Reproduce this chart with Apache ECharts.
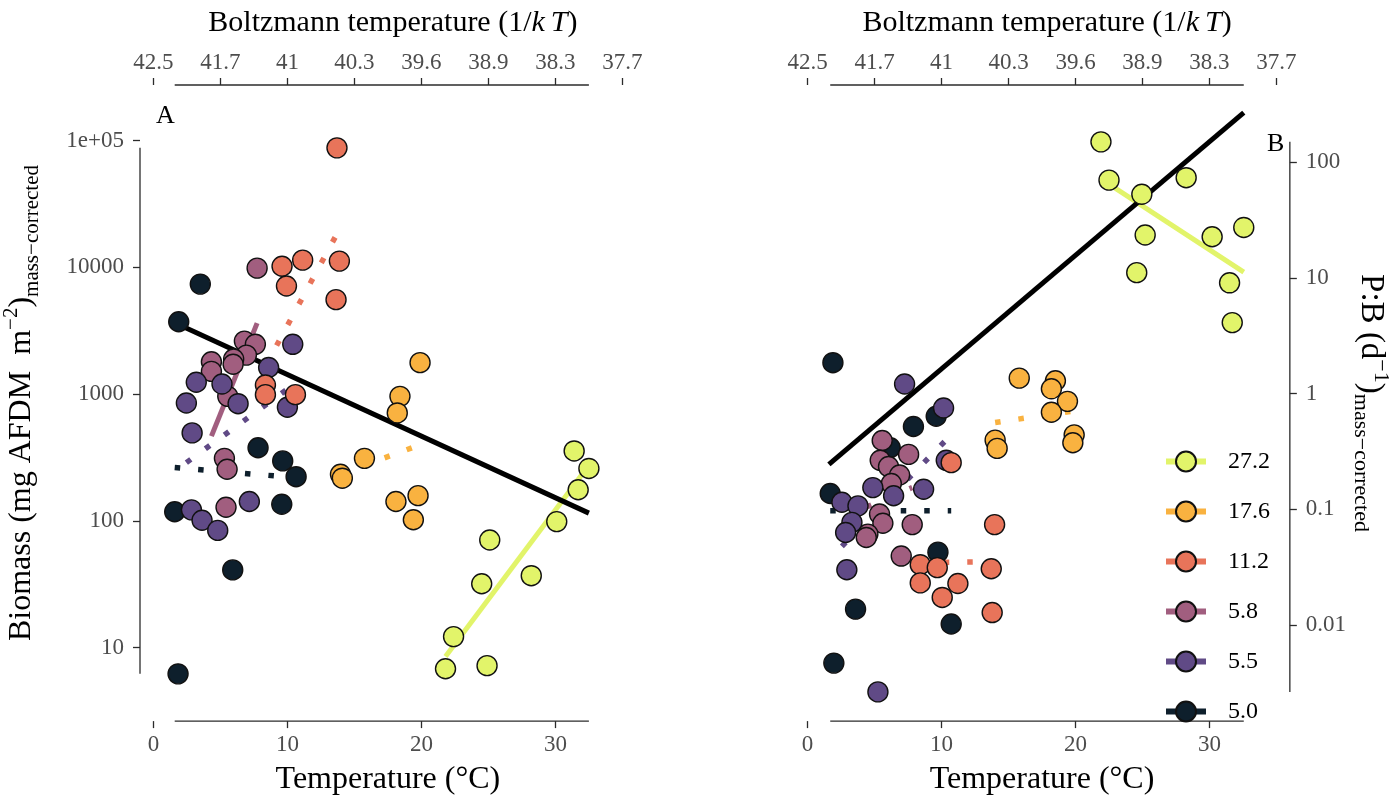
<!DOCTYPE html>
<html><head><meta charset="utf-8">
<script src="https://cdn.jsdelivr.net/npm/echarts@6/dist/echarts.min.js"></script>
<style>html,body{margin:0;padding:0;background:#fff}#c{width:1393px;height:804px}</style>
</head><body><div id="c"></div>
<script>
// ---------------- DATA ----------------
const groups = ['27.2', '17.6', '11.2', '5.8', '5.5', '5.0'];

// Panel A: biomass (mg AFDM m^-2, mass-corrected) vs temperature (°C)
const biomass_272 = [[31.4,356],[32.5,259],[31.7,176],[30.1,98.6],[25.1,70.6],[28.2,36.9],[24.5,31.9],[22.4,12.2],[21.8,6.8],[24.9,7.2]];
const biomass_176 = [[19.9,1770],[18.4,960],[18.2,710],[15.75,311],[13.96,233],[14.1,217],[18.1,142],[19.75,158],[19.4,102]];
const biomass_112 = [[13.7,87700],[9.6,10200],[11.14,11400],[13.88,11200],[9.93,7130],[13.63,5560],[8.36,1180],[8.36,990],[10.6,990]];
const biomass_58  = [[7.74,9860],[6.79,2620],[7.61,2470],[6.94,2030],[5.99,1890],[5.95,1720],[4.33,1800],[4.33,1510],[5.55,960],[5.3,311],[5.5,255],[5.42,128]];
const biomass_55  = [[10.4,2470],[8.6,1620],[3.2,1240],[5.12,1200],[2.46,850],[6.32,840],[10.0,787],[2.89,494],[2.84,122],[3.63,101],[4.8,84],[7.16,142]];
const biomass_50  = [[3.5,7380],[1.89,3720],[7.81,377],[9.65,297],[10.65,223],[1.59,118],[9.58,135],[5.92,41],[1.84,6.2]];

// Panel B: P:B (d^-1, mass-corrected) vs temperature (°C)
const pb_272 = [[21.9,150],[22.5,70],[24.95,52.8],[28.26,73.5],[25.2,23.5],[30.2,22.7],[32.56,27.3],[24.57,11.1],[31.5,9.07],[31.7,4.11]];
const pb_176 = [[15.8,1.36],[18.5,1.29],[18.2,1.1],[19.4,0.857],[18.2,0.69],[19.9,0.44],[19.8,0.376],[14.0,0.396],[14.15,0.336]];
const pb_112 = [[10.72,0.253],[13.96,0.0737],[8.41,0.0332],[9.68,0.0313],[13.71,0.0306],[8.41,0.0231],[11.22,0.0228],[10.05,0.0173],[13.78,0.0128]];
const pb_58  = [[5.57,0.393],[7.54,0.298],[5.42,0.265],[6.04,0.234],[6.87,0.198],[6.25,0.167],[5.37,0.091],[5.62,0.0757],[4.5,0.061],[4.38,0.057],[7.81,0.0737],[6.99,0.0394]];
const pb_55  = [[7.24,1.21],[10.15,0.75],[10.35,0.265],[4.87,0.154],[6.42,0.131],[8.66,0.149],[2.56,0.115],[3.76,0.107],[3.31,0.077],[2.84,0.063],[2.93,0.030],[5.25,0.00264]];
const pb_50  = [[1.89,1.85],[9.6,0.637],[7.9,0.52],[6.17,0.34],[1.69,0.137],[9.73,0.0426],[3.58,0.0137],[10.72,0.0102],[1.96,0.00468]];

// Fitted lines (end points): [temperature, value]
const fitA_272 = [[21.8,8.5],[32.5,275]];
const fitA_176 = [[13.96,234],[19.9,398]];
const fitA_112 = [[8.36,1660],[13.88,19950]];
const fitA_58  = [[4.33,466],[7.74,3630]];
const fitA_55  = [[2.46,288],[10.4,1175]];
const fitA_50  = [[1.59,263],[10.65,219]];
const fitA_all = [[1.59,3660],[32.5,115]];

const fitB_272 = [[21.9,71.8],[32.56,11.2]];
const fitB_176 = [[14.0,0.562],[19.9,0.708]];
const fitB_112 = [[8.41,0.0345],[13.96,0.0352]];
const fitB_58  = [[4.38,0.1045],[7.81,0.154]];
const fitB_55  = [[2.56,0.0478],[10.35,0.398]];
const fitB_50  = [[1.69,0.0973],[10.72,0.0973]];
const fitB_all = [[1.59,0.244],[32.56,268]];

const fitKindA = ['solid','dotted','dotted','solid','dotted','dotted'];
const fitKindB = ['solid','dotted','dotted','dotted','dotted','dotted'];

const bottomTicks = [0, 10, 20, 30];
const topTicks = [0, 5, 10, 15, 20, 25, 30, 35];
const yTicksA = [10, 100, 1000, 10000, 100000];
const yTicksB = [0.01, 0.1, 1, 10, 100];

// ---------------- STYLE / LAYOUT ----------------
const colors = ['#E2F46A', '#F9B240', '#E8745A', '#A15E7F', '#604A86', '#0E1F2C'];
const FF = "'Liberation Serif','Times New Roman',serif";
const AX = '#2b2b2b';
const TICKC = '#4d4d4d';
const X_MIN = -1, X_MAX = 36;
const YA_MIN = Math.pow(10, 0.4196), YA_MAX = Math.pow(10, 5.439);
const YB_MIN = Math.pow(10, -2.831), YB_MAX = Math.pow(10, 2.6675);

const ptsA = [biomass_272, biomass_176, biomass_112, biomass_58, biomass_55, biomass_50];
const ptsB = [pb_272, pb_176, pb_112, pb_58, pb_55, pb_50];
const fitsA = [fitA_272, fitA_176, fitA_112, fitA_58, fitA_55, fitA_50];
const fitsB = [fitB_272, fitB_176, fitB_112, fitB_58, fitB_55, fitB_50];

function boltz(v) { return String(Math.round(10 / (8.617333e-5 * (v + 273.15))) / 10); }
function logLabel(v) {
  const lg = Math.round(Math.log10(v));
  if (lg >= 5) return '1e+0' + lg;
  if (lg >= 0) return String(Math.pow(10, lg));
  return Math.pow(10, lg).toFixed(-lg);
}

function xBottom(gi) {
  return {
    type: 'value', gridIndex: gi, position: 'bottom', min: X_MIN, max: X_MAX,
    axisLine: { show: false, onZero: false }, splitLine: { show: false },
    axisTick: { show: true, length: 7, lineStyle: { color: AX, width: 1.3 }, customValues: bottomTicks },
    axisLabel: { customValues: bottomTicks, color: TICKC, fontSize: 23, fontFamily: FF, margin: 12 },
    name: 'Temperature (°C)', nameLocation: 'middle', nameGap: 36,
    nameTextStyle: { fontSize: 32, fontFamily: FF, color: '#000', lineHeight: 38 }
  };
}
function xTop(gi) {
  return {
    type: 'value', gridIndex: gi, position: 'top', min: X_MIN, max: X_MAX,
    axisLine: { show: false, onZero: false }, splitLine: { show: false },
    axisTick: { show: true, length: 7, lineStyle: { color: AX, width: 1.3 }, customValues: topTicks },
    axisLabel: { customValues: topTicks, color: TICKC, fontSize: 23, fontFamily: FF, margin: 11, formatter: boltz },
    name: '{n|Boltzmann temperature (1/}{i|k\u2009T}{n|)}', nameLocation: 'middle', nameGap: 44,
    nameTextStyle: { padding: [0, 0, 0, 10], rich: {
      n: { fontSize: 30, fontFamily: FF, color: '#000', lineHeight: 36 },
      i: { fontSize: 30, fontFamily: FF, color: '#000', fontStyle: 'italic', lineHeight: 36 } } }
  };
}
function richTitle(main, small) {
  return {
    n: { fontSize: main, fontFamily: FF, color: '#000', lineHeight: 42 },
    sup: { fontSize: small, fontFamily: FF, color: '#000', lineHeight: 24, verticalAlign: 'top' },
    sub: { fontSize: small, fontFamily: FF, color: '#000', lineHeight: 12, verticalAlign: 'bottom' }
  };
}

function rangeOf(arrs, k) {
  const vals = [].concat(...arrs.map(a => a.map(p => p[k])));
  return [Math.min(...vals), Math.max(...vals)];
}

const series = [];
function frame(gi, pts, yMin, yMax, xEdge) {
  const xr = rangeOf(pts, 0), yr = rangeOf(pts, 1);
  const base = { type: 'line', xAxisIndex: gi * 2, yAxisIndex: gi, symbol: 'none', silent: true, clip: false, z: 1,
    lineStyle: { color: AX, width: 1.3 }, animation: false };
  series.push(Object.assign({}, base, { data: [[xr[0], yMin], [xr[1], yMin]] }));
  series.push(Object.assign({}, base, { data: [[xr[0], yMax], [xr[1], yMax]] }));
  series.push(Object.assign({}, base, { data: [[xEdge, yr[0]], [xEdge, yr[1]]] }));
}
function lineStyleFor(kind, color) {
  return kind === 'solid'
    ? { color: color, width: 5, type: 'solid', cap: 'butt' }
    : { color: color, width: 5.5, type: [5.5, 18], cap: 'butt' };
}
function panel(gi, fits, kinds, fitAll) {
  groups.forEach((g, i) => {
    series.push({
      name: g, type: 'line', xAxisIndex: gi * 2, yAxisIndex: gi, data: fits[i],
      symbol: 'circle', showSymbol: false, symbolSize: 20, z: 2, silent: true,
      itemStyle: { color: colors[i], borderColor: '#111', borderWidth: 1.4 },
      lineStyle: lineStyleFor(kinds[i], colors[i]), emphasis: { disabled: true }
    });
  });
  series.push({ name: 'fit', type: 'line', xAxisIndex: gi * 2, yAxisIndex: gi, data: fitAll,
    symbol: 'none', z: 2, silent: true, lineStyle: { color: '#000', width: 5 } });
}
function points(gi, pts) {
  const order = [5, 3, 4, 2, 1, 0];
  order.forEach(i => {
    series.push({
      name: groups[i], type: 'scatter', xAxisIndex: gi * 2, yAxisIndex: gi, data: pts[i],
      symbol: 'circle', symbolSize: 20, z: 3,
      itemStyle: { color: colors[i], borderColor: '#111', borderWidth: 1.4, opacity: 1 },
      emphasis: { disabled: true }
    });
  });
}

panel(0, fitsA, fitKindA, fitA_all);
panel(1, fitsB, fitKindB, fitB_all);
frame(0, ptsA, YA_MIN, YA_MAX, X_MIN);
frame(1, ptsB, YB_MIN, YB_MAX, X_MAX);
points(0, ptsA);
points(1, ptsB);

const option = {
  animation: false,
  backgroundColor: '#fff',
  title: [
    { text: 'A', left: 156, top: 103, padding: 0, textStyle: { fontFamily: FF, fontSize: 26, fontWeight: 'normal', color: '#000' } },
    { text: 'B', left: 1267, top: 131, padding: 0, textStyle: { fontFamily: FF, fontSize: 26, fontWeight: 'normal', color: '#000' } }
  ],
  grid: [
    { left: 140, top: 85, width: 495.8, height: 640 },
    { left: 794.2, top: 85, width: 495.8, height: 640 }
  ],
  xAxis: [xBottom(0), xTop(0), xBottom(1), xTop(1)],
  yAxis: [
    { type: 'log', logBase: 10, gridIndex: 0, position: 'left', min: YA_MIN, max: YA_MAX,
      axisLine: { show: false, onZero: false }, splitLine: { show: false }, minorTick: { show: false },
      axisTick: { show: true, length: 7, lineStyle: { color: AX, width: 1.3 }, customValues: yTicksA },
      axisLabel: { customValues: yTicksA, color: TICKC, fontSize: 23, fontFamily: FF, margin: 16, formatter: logLabel },
      name: '{n|Biomass (mg AFDM  m}{sup|\u22122}{n|)}{sub|mass\u2212corrected}',
      nameLocation: 'middle', nameRotate: 90, nameGap: 97, nameTextStyle: { rich: richTitle(32, 21) } },
    { type: 'log', logBase: 10, gridIndex: 1, position: 'right', min: YB_MIN, max: YB_MAX,
      axisLine: { show: false, onZero: false }, splitLine: { show: false }, minorTick: { show: false },
      axisTick: { show: true, length: 7, lineStyle: { color: AX, width: 1.3 }, customValues: yTicksB },
      axisLabel: { customValues: yTicksB, color: TICKC, fontSize: 23, fontFamily: FF, margin: 16, formatter: logLabel },
      name: '{n|P:B (d}{sup|\u22121}{n|)}{sub|mass\u2212corrected}',
      nameLocation: 'middle', nameRotate: -90, nameGap: 58, nameTextStyle: { rich: richTitle(33, 22) } }
  ],
  legend: {
    data: groups, orient: 'vertical', left: 1158, top: 444, itemWidth: 40, itemHeight: 25, itemGap: 25,
    selectedMode: false,
    lineStyle: { type: 'solid', width: 6, cap: 'butt' },
    textStyle: { fontFamily: FF, fontSize: 24, color: '#000', lineHeight: 25, padding: [0, 0, 0, 17] }
  },
  series: series
};
const chart = echarts.init(document.getElementById('c'), null, { renderer: 'canvas' });
chart.setOption(option);
</script></body></html>
